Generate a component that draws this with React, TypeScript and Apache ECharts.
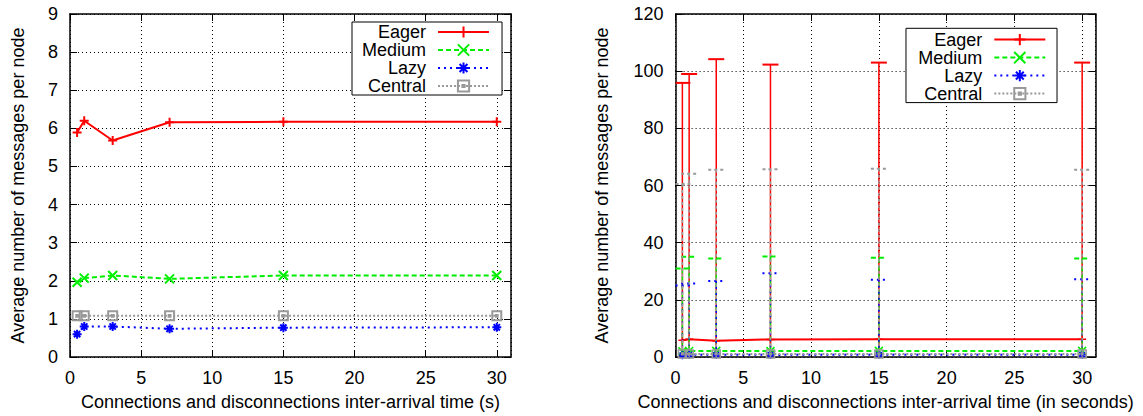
import React, { useEffect, useRef } from "react";
import * as echarts from "echarts";

// ---- data ----
const seriesNames = ["Eager", "Medium", "Lazy", "Central"];
const xValues = [0.5, 1, 3, 7, 15, 30];
const eagerMean = [5.89, 6.2, 5.68, 6.16, 6.17, 6.17];
const mediumMean = [1.96, 2.07, 2.14, 2.05, 2.14, 2.14];
const lazyMean = [0.6, 0.8, 0.8, 0.74, 0.77, 0.78];
const centralMean = [1.08, 1.08, 1.08, 1.08, 1.08, 1.08];
// upper end of the error bars (mean + deviation), right chart
const eagerHigh = [95.9, 99.0, 104.2, 102.3, 103.0, 103.0];
const mediumHigh = [31.0, 35.1, 34.5, 35.2, 34.7, 34.5];
const lazyHigh = [25.0, 25.7, 26.6, 29.3, 27.0, 27.2];
const centralHigh = [60.5, 64.1, 65.5, 65.7, 65.9, 65.5];
const leftXTitle = "Connections and disconnections inter-arrival time (s)";
const rightXTitle = "Connections and disconnections inter-arrival time (in seconds)";
const yTitle = "Average number of messages per node";

const FONT = "'Liberation Sans', Arial, Helvetica, sans-serif";
const FS = 18;

const styles = [
  { color: "#ff0000", dash: "solid" as any, width: 2, symbol: "path://M5,0L5,10M0,5L10,5", fill: "#ff0000" },
  { color: "#00ee00", dash: [5, 3], width: 2, symbol: "path://M0,0L10,10M10,0L0,10", fill: "#00ee00" },
  { color: "#0000ff", dash: [2, 4], width: 2, symbol: "path://M5,0L5,10M0,5L10,5M1.5,1.5L8.5,8.5M8.5,1.5L1.5,8.5", fill: "#0000ff" },
  { color: "#999999", dash: [2, 2], width: 2, symbol: "path://M0,0L10,0L10,10L0,10ZM4,4L6,4L6,6L4,6Z", fill: "transparent" },
];
const means = [eagerMean, mediumMean, lazyMean, centralMean];
const highs = [eagerHigh, mediumHigh, lazyHigh, centralHigh];

function App() {
  const ref = useRef<HTMLDivElement>(null);
  useEffect(() => {
    const chart = echarts.init(ref.current!, null, { renderer: "svg" });

    const grids = [
      { left: 70, top: 14, width: 441, height: 343.7 },
      { left: 675.6, top: 14, width: 420.1, height: 343.7 },
    ];
    const gridLine = { show: true, lineStyle: { color: "#000", width: 1, type: [1, 3] as any } };
    const axisLine = { show: true, onZero: false, lineStyle: { color: "#000", width: 1.5 } };
    const tick = { show: true, inside: true, length: 7, lineStyle: { color: "#000", width: 1 } };
    const xLabelFmt = (v: number) => (v % 5 === 0 ? String(v) : "");

    const mkX = (gi: number, name: string) => [
      {
        type: "value", gridIndex: gi, min: 0, max: 31, interval: 5, position: "bottom",
        axisLine, axisTick: tick, splitLine: gridLine,
        axisLabel: { formatter: xLabelFmt, fontSize: FS, fontFamily: FONT, color: "#000", margin: 12, showMaxLabel: false },
        name, nameLocation: "middle", nameGap: 36,
        nameTextStyle: { fontSize: FS, fontFamily: FONT, color: "#000" },
      },
      {
        type: "value", gridIndex: gi, min: 0, max: 31, interval: 5, position: "top",
        axisLine, axisTick: tick, splitLine: { show: false }, axisLabel: { show: false },
      },
    ];
    const mkY = (gi: number, max: number, interval: number, gap: number) => [
      {
        type: "value", gridIndex: gi, min: 0, max, interval, position: "left",
        axisLine, axisTick: tick, splitLine: gridLine,
        axisLabel: { fontSize: FS, fontFamily: FONT, color: "#000", margin: 12 },
        name: yTitle, nameLocation: "middle", nameGap: gap, nameRotate: 90,
        nameTextStyle: { fontSize: FS, fontFamily: FONT, color: "#000" },
      },
      {
        type: "value", gridIndex: gi, min: 0, max, interval, position: "right",
        axisLine, axisTick: tick, splitLine: { show: false }, axisLabel: { show: false },
      },
    ];

    const series: any[] = [];
    // left chart lines
    styles.forEach((s, i) => {
      series.push({
        type: "line", name: seriesNames[i], xAxisIndex: 0, yAxisIndex: 0,
        data: xValues.map((x, j) => [x, means[i][j]]),
        symbol: s.symbol, symbolSize: 9, showSymbol: true,
        lineStyle: { color: s.color, width: s.width, type: s.dash },
        itemStyle: { color: s.fill, borderColor: s.color, borderWidth: 2 },
        z: 3 + i, silent: true,
      });
    });
    // right chart: error bars + lines
    styles.forEach((s, i) => {
      series.push({
        type: "custom", name: seriesNames[i], xAxisIndex: 2, yAxisIndex: 2,
        data: xValues.map((x, j) => [x, 2 * means[i][j] - highs[i][j], highs[i][j]]),
        encode: { x: 0, y: [1, 2] },
        z: 3 + 2 * i, silent: true,
        renderItem: (params: any, api: any) => {
          const cs = params.coordSys;
          const x = api.value(0);
          const top = api.coord([x, api.value(2)]);
          const bot = api.coord([x, api.value(1)]);
          const bottom = cs.y + cs.height;
          const yb = Math.min(bot[1], bottom);
          const st = {
            stroke: s.color, lineWidth: 1.5,
            lineDash: s.dash === "solid" ? null : i === 3 ? [3, 3] : s.dash,
            fill: null,
          };
          const hw = 8;
          const xl = Math.max(top[0] - hw, cs.x);
          const xr = Math.min(top[0] + hw, cs.x + cs.width);
          const children: any[] = [
            { type: "line", shape: { x1: top[0], y1: top[1], x2: top[0], y2: yb }, style: st },
            { type: "line", shape: { x1: xl, y1: top[1], x2: xr, y2: top[1] }, style: { ...st, lineWidth: 2 } },
          ];
          return { type: "group", children };
        },
      });
      series.push({
        type: "line", name: seriesNames[i], xAxisIndex: 2, yAxisIndex: 2,
        data: xValues.map((x, j) => [x, means[i][j]]),
        symbol: s.symbol, symbolSize: 8, showSymbol: true,
        lineStyle: { color: s.color, width: s.width, type: s.dash },
        itemStyle: { color: s.fill, borderColor: s.color, borderWidth: 1.5 },
        z: 4 + 2 * i, silent: true,
      });
    });

    const legendBase = {
      orient: "vertical", align: "right", itemGap: 0, itemWidth: 51, itemHeight: 14,
      backgroundColor: "#fff", borderColor: "#000", borderWidth: 1, borderRadius: 0,
      data: seriesNames, selectedMode: false,
      textStyle: { fontSize: FS, fontFamily: FONT, color: "#000", lineHeight: 18, padding: [0, 7, 0, 0] },
    };

    chart.setOption({
      animation: false,
      backgroundColor: "#fff",
      grid: grids.map((g) => ({ ...g, show: false, containLabel: false })),
      xAxis: [...mkX(0, leftXTitle), ...mkX(1, rightXTitle)],
      yAxis: [...mkY(0, 9, 1, 43), ...mkY(1, 120, 20, 65)],
      legend: [
        { ...legendBase, left: 352, top: 22, padding: [1, 12, 0, 10] },
        { ...legendBase, left: 906, top: 28.3, padding: [2.3, 10.7, 0, 12.3], textStyle: { ...legendBase.textStyle, lineHeight: 17.3 } },
      ],
      series,
    });
    return () => chart.dispose();
  }, []);
  return (
    <div
      ref={ref}
      style={{ position: "fixed", left: 0, top: 0, width: 1143, height: 416, background: "#fff" }}
    />
  );
}

export default App;
